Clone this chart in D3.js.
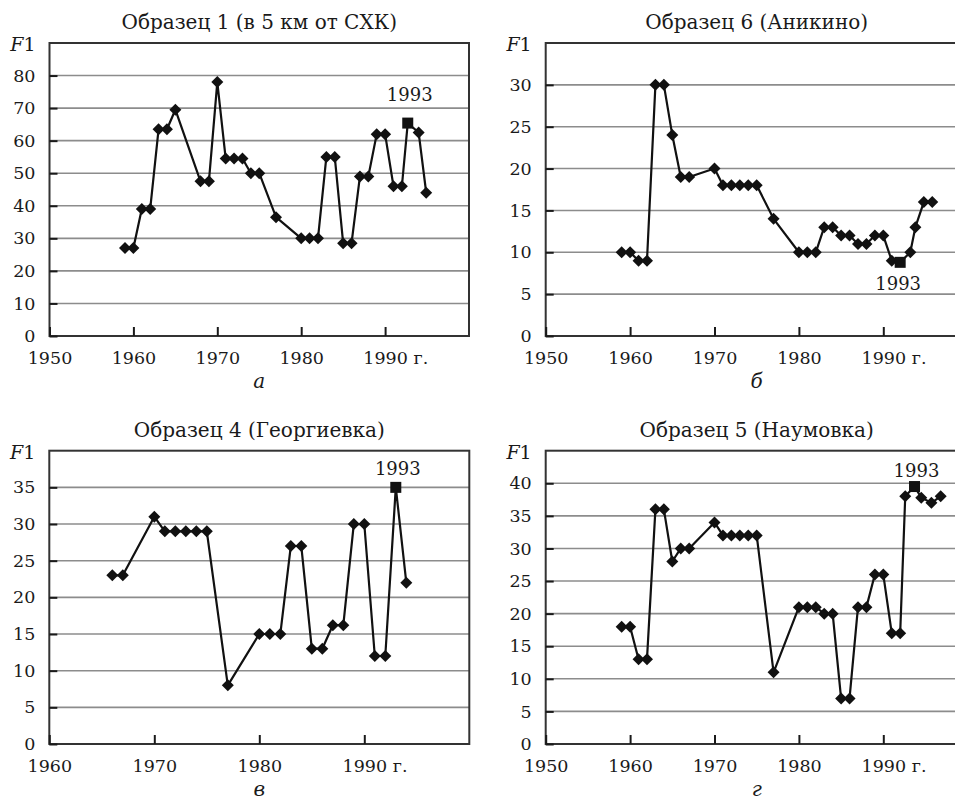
<!DOCTYPE html>
<html>
<head>
<meta charset="utf-8">
<script src="https://cdn.jsdelivr.net/npm/d3@7"></script>
<style>
  body { margin: 0; background: #fff; }
  text { font-family: "DejaVu Serif", serif; fill: #1a1a1a; }
</style>
</head>
<body>
<div id="chart"></div>
<script>

// Образец 1 (в 5 км от СХК)
var yearsA  = [1959, 1960, 1961, 1962, 1963, 1964, 1965, 1968, 1969, 1970, 1971, 1972, 1973, 1974, 1975, 1977, 1980, 1981, 1982, 1983, 1984, 1985, 1986, 1987, 1988, 1989, 1990, 1991, 1992, 1992.7, 1994, 1994.9];
var valuesA = [27, 27, 39, 39, 63.5, 63.5, 69.5, 47.5, 47.5, 78, 54.5, 54.5, 54.5, 50, 50, 36.5, 30, 30, 30, 55, 55, 28.5, 28.5, 49, 49, 62, 62, 46, 46, 65.4, 62.5, 44];
var markA = 1992.7;

// Образец 6 (Аникино)
var yearsB  = [1959, 1960, 1961, 1962, 1963, 1964, 1965, 1966, 1967, 1970, 1971, 1972, 1973, 1974, 1975, 1977, 1980, 1981, 1982, 1983, 1984, 1985, 1986, 1987, 1988, 1989, 1990, 1991, 1992, 1993.2, 1993.8, 1994.8, 1995.8];
var valuesB = [10, 10, 9, 9, 30, 30, 24, 19, 19, 20, 18, 18, 18, 18, 18, 14, 10, 10, 10, 13, 13, 12, 12, 11, 11, 12, 12, 9, 8.8, 10, 13, 16, 16];
var markB = 1992;

// Образец 4 (Георгиевка)
var yearsC  = [1966, 1967, 1970, 1971, 1972, 1973, 1974, 1975, 1977, 1980, 1981, 1982, 1983, 1984, 1985, 1986, 1987, 1988, 1989, 1990, 1991, 1992, 1993, 1994];
var valuesC = [23, 23, 31, 29, 29, 29, 29, 29, 8, 15, 15, 15, 27, 27, 13, 13, 16.2, 16.2, 30, 30, 12, 12, 35, 22];
var markC = 1993;

// Образец 5 (Наумовка)
var yearsD  = [1959, 1960, 1961, 1962, 1963, 1964, 1965, 1966, 1967, 1970, 1971, 1972, 1973, 1974, 1975, 1977, 1980, 1981, 1982, 1983, 1984, 1985, 1986, 1987, 1988, 1989, 1990, 1991, 1992, 1992.6, 1993.7, 1994.5, 1995.7, 1996.8];
var valuesD = [18, 18, 13, 13, 36, 36, 28, 30, 30, 34, 32, 32, 32, 32, 32, 11, 21, 21, 21, 20, 20, 7, 7, 21, 21, 26, 26, 17, 17, 38, 39.5, 37.8, 37, 38];
var markD = 1993.7;

var titles = ["Образец 1 (в 5 км от СХК)", "Образец 6 (Аникино)", "Образец 4 (Георгиевка)", "Образец 5 (Наумовка)"];
var letters = ["а", "б", "в", "г"];
var xTicksA = [1950, 1960, 1970, 1980, 1990];
var xTicksC = [1960, 1970, 1980, 1990];
var yTicksA = [0, 10, 20, 30, 40, 50, 60, 70, 80];
var yTicksB = [0, 5, 10, 15, 20, 25, 30];
var yTicksC = [0, 5, 10, 15, 20, 25, 30, 35];
var yTicksD = [0, 5, 10, 15, 20, 25, 30, 35, 40];

function zip(xs, vs) {
  return xs.map(function(d, i) { return { year: d, value: vs[i] }; });
}

// layout of the four panels
var panels = [
  { data: zip(yearsA, valuesA), mark: markA, title: titles[0], letter: letters[0],
    xDomain: [1950, 2000], yDomain: [0, 90], xTicks: xTicksA, yTicks: yTicksA,
    left: 49.5, right: 469, top: 43, bottom: 336, labelDx: 2, labelDy: -22 },
  { data: zip(yearsB, valuesB), mark: markB, title: titles[1], letter: letters[1],
    xDomain: [1950, 2000], yDomain: [0, 35], xTicks: xTicksA, yTicks: yTicksB,
    left: 545.7, right: 967.7, top: 43, bottom: 336, labelDx: -2, labelDy: 28 },
  { data: zip(yearsC, valuesC), mark: markC, title: titles[2], letter: letters[2],
    xDomain: [1960, 2000], yDomain: [0, 40], xTicks: xTicksC, yTicks: yTicksC,
    left: 49.3, right: 469.3, top: 450.7, bottom: 744, labelDx: 2, labelDy: -12 },
  { data: zip(yearsD, valuesD), mark: markD, title: titles[3], letter: letters[3],
    xDomain: [1950, 2000], yDomain: [0, 45], xTicks: xTicksA, yTicks: yTicksD,
    left: 545.7, right: 967.7, top: 450.7, bottom: 744, labelDx: 2, labelDy: -10 }
];

var svg = d3.select("#chart").append("svg")
    .attr("width", 955)
    .attr("height", 802)
    .style("background", "#fff");

var diamond = "M0,-6L6,0L0,6L-6,0Z";

panels.forEach(function(p) {
  var x = d3.scaleLinear().domain(p.xDomain).range([p.left, p.right]);
  var y = d3.scaleLinear().domain(p.yDomain).range([p.bottom, p.top]);
  var g = svg.append("g");

  // gridlines
  g.selectAll(".grid")
    .data(p.yTicks.filter(function(d) { return d > 0; }))
    .enter().append("line")
      .attr("class", "grid")
      .attr("x1", p.left).attr("x2", p.right)
      .attr("y1", function(d) { return y(d); })
      .attr("y2", function(d) { return y(d); })
      .attr("stroke", "#8c8c8c")
      .attr("stroke-width", 1.6);

  // frame
  g.append("rect")
    .attr("x", p.left).attr("y", p.top)
    .attr("width", p.right - p.left).attr("height", p.bottom - p.top)
    .attr("fill", "none")
    .attr("stroke", "#333")
    .attr("stroke-width", 2);

  var ya = g.append("g")
    .attr("transform", "translate(" + p.left + ",0)")
    .call(d3.axisLeft(y).tickValues(p.yTicks).tickSize(-8).tickPadding(14).tickFormat(d3.format("d")));
  ya.select(".domain").remove();

  var xa = g.append("g")
    .attr("transform", "translate(0," + p.bottom + ")")
    .call(d3.axisBottom(x).tickValues(p.xTicks).tickSize(-9).tickPadding(16).tickFormat(d3.format("d")));
  xa.select(".domain").remove();
  xa.selectAll(".tick").filter(function(d) { return d === 1990; })
    .append("text")
      .attr("x", 28)
      .attr("y", 16)
      .attr("dy", "0.71em")
      .attr("text-anchor", "start")
      .text("г.");

  [ya, xa].forEach(function(a) {
    a.attr("font-family", "DejaVu Serif").attr("font-size", 17.5).attr("color", "#1a1a1a");
    a.selectAll(".tick line").attr("stroke-width", 2);
  });

  // F1 label
  var f = g.append("text")
    .attr("x", p.left - 14)
    .attr("y", p.top + 8)
    .attr("text-anchor", "end")
    .attr("font-size", 19);
  f.append("tspan").attr("font-style", "italic").text("F");
  f.append("tspan").text("1");

  // title
  g.append("text")
    .attr("x", (p.left + p.right) / 2)
    .attr("y", p.top - 14)
    .attr("text-anchor", "middle")
    .attr("font-size", 20)
    .text(p.title);

  // panel letter
  g.append("text")
    .attr("x", (p.left + p.right) / 2)
    .attr("y", p.bottom + 52)
    .attr("text-anchor", "middle")
    .attr("font-size", 20)
    .attr("font-style", "italic")
    .text(p.letter);

  var line = d3.line()
    .x(function(d) { return x(d.year); })
    .y(function(d) { return y(d.value); });

  g.append("path")
    .datum(p.data)
    .attr("d", line)
    .attr("fill", "none")
    .attr("stroke", "#111")
    .attr("stroke-width", 2.2)
    .attr("stroke-linejoin", "round");

  g.selectAll(".pt")
    .data(p.data.filter(function(d) { return d.year !== p.mark; }))
    .enter().append("path")
      .attr("class", "pt")
      .attr("d", diamond)
      .attr("transform", function(d) { return "translate(" + x(d.year) + "," + y(d.value) + ")"; })
      .attr("fill", "#111");

  var m = p.data.filter(function(d) { return d.year === p.mark; })[0];
  g.append("rect")
    .attr("x", x(m.year) - 5.5).attr("y", y(m.value) - 5.5)
    .attr("width", 11).attr("height", 11)
    .attr("fill", "#111");

  g.append("text")
    .attr("x", x(m.year) + p.labelDx)
    .attr("y", y(m.value) + p.labelDy)
    .attr("text-anchor", "middle")
    .attr("font-size", 18)
    .text("1993");
});

</script>
</body>
</html>
